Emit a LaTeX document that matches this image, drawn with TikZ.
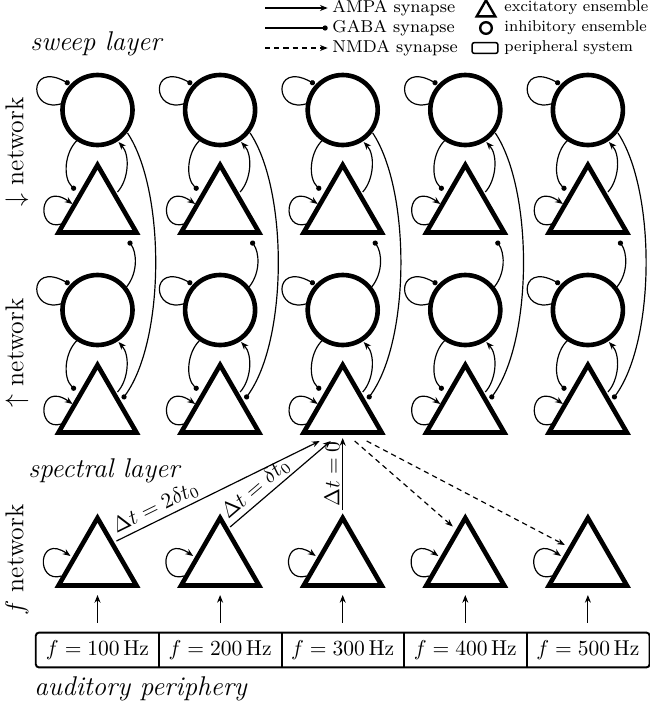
\documentclass[tikz,border=0pt]{standalone}
\usetikzlibrary{calc,shapes.geometric,arrows.meta}

\tikzset{
  inh/.style={circle,draw,line width=2.15pt,minimum size=32.55pt,inner sep=0pt},
  exc/.style={regular polygon,regular polygon sides=3,draw,line width=2.15pt,
              minimum size=41.85pt,inner sep=0pt},
  syn/.style={line width=0.55pt},
  ampa/.style={syn,-{Stealth[length=3.6pt,width=2.8pt]}},
  gaba/.style={syn,-{Circle[length=2.4pt]}},
  nmda/.style={syn,dash pattern=on 2.4pt off 1.9pt,-{Stealth[length=3.6pt,width=2.8pt]}},
  pbox/.style={rectangle,minimum width=57pt,minimum height=15.8pt,inner sep=0pt},
  lbl/.style={sloped,anchor=south west,inner sep=1.3pt,pos=0},
  sidelbl/.style={rotate=90,font=\large},
  layerlbl/.style={anchor=base west,inner sep=0pt,font=\fontsize{12.6}{15}\selectfont\itshape},
  leg/.style={anchor=west,font=\footnotesize,inner sep=0pt},
}
\newcommand\legtext[1]{\scalebox{0.91}{#1}}

% connections inside one ensemble pair: #1 inhibitory (circle), #2 excitatory (triangle)
\newcommand\wireunit[2]{%
  \draw[gaba] ($(#1)+(-34,-7)$) .. controls ($(#1)+(-69,6)$) and ($(#1)+(-71,-50)$) .. ($(#1)+(-28,-26)$);
  \draw[ampa] ($(#2)+(-36,14)$) .. controls ($(#2)+(-62,22)$) and ($(#2)+(-59,-30)$) .. ($(#2)+(-25,-6)$);
  \draw[gaba] ($(#1)+(-20,30)$) .. controls ($(#1)+(-33,42)$) and ($(#2)+(-35,-32)$) .. ($(#2)+(-22,-20)$);
  \draw[ampa] ($(#2)+(20,-18)$) .. controls ($(#2)+(31,-30)$) and ($(#1)+(33,45)$) .. ($(#1)+(21,32)$);
}

\begin{document}
\begin{tikzpicture}[x=0.465pt,y=-0.465pt]
\useasboundingbox (0,0) rectangle (650,705);

% ensembles and peripheral channels
\foreach \i in {1,...,5} {
  \pgfmathsetmacro\cx{97.5+122.6*(\i-1)}
  \node[inh] (cd\i) at (\cx,110) {};
  \node[exc] (td\i) at (\cx,210) {};
  \node[inh] (cu\i) at (\cx,310) {};
  \node[exc] (tu\i) at (\cx,410) {};
  \node[exc] (tf\i) at (\cx,563) {};
  \node[pbox] (b\i) at (\cx,650) {$f = \i00\,\mathrm{Hz}$};
}

% peripheral system frame
\draw[line width=0.9pt,rounded corners=1.5pt] (b1.north west) rectangle (b5.south east);
\foreach \i in {1,...,4} {
  \draw[line width=0.9pt] (b\i.north east) -- (b\i.south east);
}

% synapses within and between the sweep networks
\foreach \i in {1,...,5} {
  \wireunit{cd\i}{td\i}
  \wireunit{cu\i}{tu\i}
  \draw[gaba] ($(cd\i)+(30,23)$) .. controls ($(cd\i)+(68,80)$) and ($(tu\i)+(68,-70)$) .. ($(tu\i)+(25,-11)$);
  \draw[gaba] ($(cu\i)+(29,-23)$) .. controls ($(cu\i)+(41,-38)$) and ($(td\i)+(39,42)$) .. ($(td\i)+(31,31)$);
  % spectral self-excitation and peripheral input
  \draw[ampa] ($(tf\i)+(-36,13)$) .. controls ($(tf\i)+(-62,21)$) and ($(tf\i)+(-60,-30)$) .. ($(tf\i)+(-27,-7)$);
  \draw[ampa] ($(b\i.north)+(0,-10)$) -- ($(tf\i)+(0,32)$);
}

% spectral layer to sweep layer
\draw[ampa] ($(tf1)+(19,-22)$) -- node[lbl] {$\Delta t = 2\delta t_0$} ($(tu3)+(-23,31)$);
\draw[ampa] ($(tf2)+(10,-36)$) -- node[lbl] {$\Delta t = \delta t_0$} ($(tu3)+(-12,31)$);
\draw[ampa] ($(tf3)+(0,-53)$) -- node[lbl] {$\Delta t = 0$} ($(tu3)+(0,28)$);
\draw[nmda] ($(tu3)+(12,31)$) -- ($(tf4)+(-12.5,-36.5)$);
\draw[nmda] ($(tu3)+(24,31)$) -- ($(tf5)+(-23,-18)$);

% layer and network labels
\node[layerlbl] (lsweep) at (30,50) {sweep layer};
\node[layerlbl] (lspec) at (28,477) {spectral layer};
\node[layerlbl] (lperi) at (34,695) {auditory periphery};
\node[sidelbl] (ldown) at (17,152) {$\downarrow$ network};
\node[sidelbl] (lup) at (17,353) {$\uparrow$ network};
\node[sidelbl] (lf) at (17,560) {$f$ network};

% legend
\node[leg] (lgA) at (332,8) {AMPA synapse};
\node[leg] (lgG) at (332,28) {GABA synapse};
\node[leg] (lgN) at (332,48) {NMDA synapse};
\coordinate (lgA0) at (265,8);
\coordinate (lgG0) at (265,28);
\coordinate (lgN0) at (265,48);
\draw[ampa] (lgA0) -- ([xshift=-2pt]lgA.west);
\draw[gaba] (lgG0) -- ([xshift=-2pt]lgG.west);
\draw[nmda] (lgN0) -- ([xshift=-2pt]lgN.west);
\node[regular polygon,regular polygon sides=3,draw,line width=1.1pt,minimum size=10pt,inner sep=0pt] (sE) at (486,11) {};
\node[circle,draw,line width=1.1pt,minimum size=5.4pt,inner sep=0pt] (sI) at (486,28) {};
\node[rectangle,draw,line width=0.7pt,rounded corners=1pt,minimum width=12pt,minimum height=5pt,inner sep=0pt] (sP) at (485,48) {};
\node[leg] (lgE) at (504,8) {\legtext{excitatory ensemble}};
\node[leg] (lgI) at (504,28) {\legtext{inhibitory ensemble}};
\node[leg] (lgP) at (504,48) {\legtext{peripheral system}};
\end{tikzpicture}
\end{document}
